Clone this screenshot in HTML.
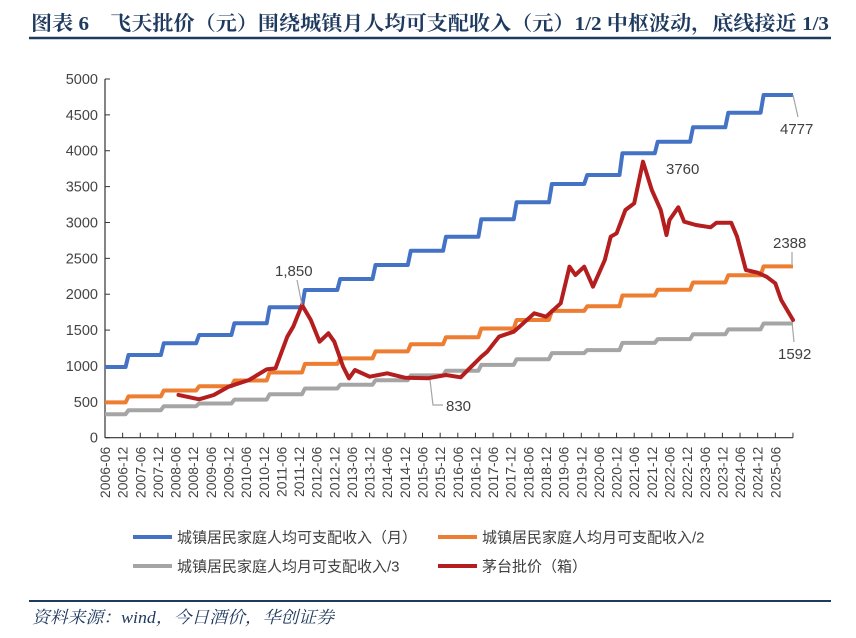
<!DOCTYPE html>
<html><head><meta charset="utf-8">
<style>
html,body{margin:0;padding:0;background:#fff;}
svg{display:block;}
</style></head>
<body>
<svg id="chart" width="856" height="638" viewBox="0 0 856 638" xmlns="http://www.w3.org/2000/svg">
  <text x="31" y="30" font-family="'Liberation Serif','Noto Serif CJK SC',serif" font-weight="bold" font-size="20" fill="#1f3a5f" textLength="798" lengthAdjust="spacingAndGlyphs">图表 6　飞天批价（元）围绕城镇月人均可支配收入（元）1/2 中枢波动，底线接近 1/3</text>
  <line x1="29" y1="38" x2="831" y2="38" stroke="#1f3a5f" stroke-width="2.5"/>
  <g id="plot"></g>
  <g id="legend"></g>
  <line x1="29" y1="601" x2="831" y2="601" stroke="#1f3a5f" stroke-width="2"/>
  <text x="32" y="623" font-family="'Liberation Serif','Noto Serif CJK SC',serif" font-style="italic" font-size="17" fill="#1f3a5f" textLength="302" lengthAdjust="spacingAndGlyphs">资料来源：wind，今日酒价，华创证券</text>
</svg>
<script>
// ---- data ----
const incomeYears = [2006,2007,2008,2009,2010,2011,2012,2013,2014,2015,2016,2017,2018,2019,2020,2021,2022,2023,2024,2025];
const incomeMonthly = [985,1153,1316,1432,1594,1818,2059,2212,2407,2607,2802,3044,3281,3536,3662,3964,4126,4327,4530,4777];
const incomeHalf = [492,576,658,716,797,909,1029,1106,1203,1303,1401,1522,1640,1768,1831,1982,2063,2163,2265,2388];
const incomeThird = [328,384,439,477,531,606,686,737,802,869,934,1015,1094,1179,1221,1321,1375,1442,1510,1592];
const moutaiDates = ["2008-07","2009-02","2009-07","2009-12","2010-07","2011-01","2011-04","2011-08","2011-10","2012-01","2012-04","2012-07","2012-10","2012-12","2013-03","2013-05","2013-07","2013-12","2014-06","2014-12","2015-08","2016-02","2016-07","2016-10","2017-02","2017-04","2017-08","2018-01","2018-03","2018-08","2018-12","2019-05","2019-08","2019-10","2020-01","2020-04","2020-08","2020-10","2020-12","2021-03","2021-06","2021-09","2021-12","2022-03","2022-05","2022-06","2022-09","2022-11","2023-03","2023-08","2023-10","2024-03","2024-05","2024-08","2024-12","2025-03","2025-06","2025-08","2025-12"];
const moutaiPrice = [596,535,595,711,804,953,967,1408,1547,1850,1641,1338,1455,1338,990,828,944,850,898,836,830,874,842,967,1129,1199,1408,1478,1547,1734,1687,1873,2384,2268,2384,2105,2477,2802,2849,3174,3267,3847,3453,3174,2825,3035,3212,3011,2965,2933,2997,2997,2802,2338,2300,2244,2152,1919,1641];
const yTicks = [0,500,1000,1500,2000,2500,3000,3500,4000,4500,5000];
const xTickLabels = [];
for (let y = 2006; y <= 2025; y++) { xTickLabels.push(y + "-06"); if (y < 2025) xTickLabels.push(y + "-12"); }

// ---- scales ----
const X0 = 105, STEP = 17.64, Y0 = 437.7, YK = 0.07174;
function monthIndex(s){ const [y,m] = s.split("-").map(Number); return (y-2006)*12 + (m-6); }
function xm(m){ return X0 + m*STEP/6; }
function yv(v){ return Y0 - v*YK; }
const NS = "http://www.w3.org/2000/svg";
const plot = document.getElementById("plot");
function mk(tag, attrs, parent){ const e = document.createElementNS(NS, tag); for (const k in attrs) e.setAttribute(k, attrs[k]); (parent||plot).appendChild(e); return e; }
const FONT = "'Liberation Sans','Noto Sans CJK SC',sans-serif";

// y axis
yTicks.forEach(v => {
  const t = mk("text", {x: 98, y: yv(v)+5, "text-anchor":"end", "font-family":FONT, "font-size":14.5, fill:"#444"});
  t.textContent = v;
  
  
  const tk = mk("line", {x1:105, x2:110, y1:yv(v), y2:yv(v), stroke:"#333", "stroke-width":1});
  
  
});
const yax = mk("line", {x1:105, x2:105, y1:yv(5000), y2:Y0, stroke:"#333", "stroke-width":1.2});


const xax = mk("line", {x1:105, x2:xm(234), y1:Y0, y2:Y0, stroke:"#333", "stroke-width":1.2});


for (let i = 0; i <= xTickLabels.length; i++) {
  const x = X0 + i*STEP;
  const tk = mk("line", {x1:x, x2:x, y1:Y0-5, y2:Y0, stroke:"#333", "stroke-width":1});
  
  
  if (i < xTickLabels.length) {
    const t = mk("text", {x:0, y:0, "text-anchor":"end", "font-family":FONT, "font-size":14, fill:"#444", transform:`translate(${x+5},${Y0+9}) rotate(-90)`});
    t.textContent = xTickLabels[i];
    
    
  }
}

// step series
function stepPath(vals){
  let d = "";
  vals.forEach((v,i) => {
    const start = i === 0 ? 0 : (incomeYears[i]-2006)*12 - 5 + 1;
    const end = i === vals.length-1 ? 234 : (incomeYears[i+1]-2006)*12 - 5;
    d += (i===0 ? "M" : "L") + xm(start).toFixed(1) + "," + yv(v).toFixed(1) + "L" + xm(end).toFixed(1) + "," + yv(v).toFixed(1);
  });
  return d;
}
const s3 = mk("path", {d: stepPath(incomeThird), fill:"none", stroke:"#a5a5a5", "stroke-width":4, "stroke-linejoin":"round"});


const s2 = mk("path", {d: stepPath(incomeHalf), fill:"none", stroke:"#ed7d31", "stroke-width":4, "stroke-linejoin":"round"});


const s1 = mk("path", {d: stepPath(incomeMonthly), fill:"none", stroke:"#4472c4", "stroke-width":4, "stroke-linejoin":"round"});


const red = mk("path", {d: moutaiDates.map((s,i)=>(i?"L":"M")+xm(monthIndex(s)).toFixed(1)+","+yv(moutaiPrice[i]).toFixed(1)).join(""), fill:"none", stroke:"#b41e1e", "stroke-width":4, "stroke-linejoin":"round", "stroke-linecap":"round"});



// annotations
function ann(text, tx, ty, pts){
  if (pts) {
    const l = mk("polyline", {points: pts, fill:"none", stroke:"#a5a5a5", "stroke-width":1.2});
    
    
  }
  const t = mk("text", {x:tx, y:ty, "font-family":FONT, "font-size":15, fill:"#404040"});
  t.textContent = text;
  
  
}
ann("1,850", 275, 276, "297,280 302,305");
ann("830", 446, 411, "430,380 433,405 443,405");
ann("3760", 666, 174, null);
ann("4777", 780, 134, "793,95 798,117");
ann("2388", 773, 248, "792,252 792,264");
ann("1592", 778, 359, "792,322 794,342");

// legend
const legend = document.getElementById("legend");
const legendNames = ["城镇居民家庭人均可支配收入（月）","城镇居民家庭人均月可支配收入/2","城镇居民家庭人均月可支配收入/3","茅台批价（箱）"];
const legendColors = ["#4472c4","#ed7d31","#a5a5a5","#b41e1e"];
const legendKeys = ["legend-income-monthly","legend-income-half","legend-income-third","legend-moutai-price"];
legendNames.forEach((n,i)=>{
  const lx = i%2 ? 438 : 133, ly = i<2 ? 537 : 566;
  const g = mk("g", {}, legend);
  
  
  mk("line", {x1:lx, x2:lx+39, y1:ly, y2:ly, stroke:legendColors[i], "stroke-width":4}, g);
  const t = mk("text", {x:lx+44, y:ly+5.5, "font-family":FONT, "font-size":15, fill:"#404040"}, g);
  t.textContent = n;
});
</script>
</body></html>
